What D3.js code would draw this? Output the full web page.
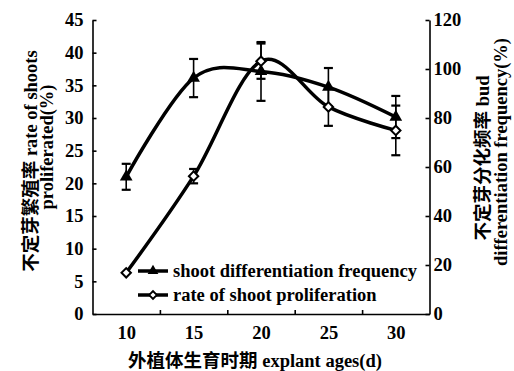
<!DOCTYPE html>
<html>
<head>
<meta charset="utf-8">
<script src="https://cdn.jsdelivr.net/npm/d3@7"></script>
<style>
  body { margin: 0; background: #fff; }
  text { font-family: "Liberation Serif", "Noto Sans CJK SC", serif; font-weight: bold; fill: #000; }
</style>
</head>
<body>
<svg id="chart" width="514" height="371"></svg>
<script>
// values
const ages = [10, 15, 20, 25, 30]
const proliferation = [6.3, 21.1, 38.7, 31.7, 28.1]        // left axis, diamonds
const proliferationErr = [0, 1.1, 2.7, 2.9, 3.8]
const differentiation = [56, 96.3, 99, 92.6, 80.4]         // right axis, triangles
const differentiationErr = [5.3, 7.8, 12, 7.8, 8.6]
const leftTicks = [0, 5, 10, 15, 20, 25, 30, 35, 40, 45]
const rightTicks = [0, 20, 40, 60, 80, 100, 120]
const minorX = [12.5, 17.5, 22.5, 27.5]

const fs = 18.5

const svg = d3.select("#chart")
svg.append("rect").attr("width", 514).attr("height", 371).attr("fill", "#fff")

const x = d3.scaleLinear().domain([7.5, 32.5]).range([92.5, 429.5])
const yL = d3.scaleLinear().domain([0, 45]).range([314, 20])
const yR = d3.scaleLinear().domain([0, 120]).range([314, 20])

const styleAxis = g => {
  g.selectAll("path, line").attr("stroke", "#000").attr("stroke-width", 1.6)
  g.selectAll("text").attr("font-size", fs)
  g.attr("font-family", null).attr("font-size", null)
}

svg.append("g")
  .attr("transform", "translate(92.5,0)")
  .call(d3.axisLeft(yL).tickValues(leftTicks).tickSize(-4).tickSizeOuter(0).tickPadding(9))
  .call(styleAxis)

svg.append("g")
  .attr("transform", "translate(429.5,0)")
  .call(d3.axisRight(yR).tickValues(rightTicks).tickSize(-4).tickSizeOuter(0).tickPadding(4))
  .call(styleAxis)

svg.append("g")
  .attr("transform", "translate(0,314)")
  .call(d3.axisBottom(x).tickValues(ages).tickSize(0).tickPadding(12))
  .call(styleAxis)

svg.append("g")
  .attr("transform", "translate(0,314)")
  .call(d3.axisBottom(x).tickValues(minorX).tickSize(-4).tickFormat(""))
  .call(g => g.select(".domain").remove())
  .call(styleAxis)

// curves
const curve = d3.curveCardinal.tension(0)
const lineL = d3.line().x((d, i) => x(ages[i])).y(d => yL(d)).curve(curve)
const lineR = d3.line().x((d, i) => x(ages[i])).y(d => yR(d)).curve(curve)

svg.append("path").attr("d", lineR(differentiation))
  .attr("fill", "none").attr("stroke", "#000").attr("stroke-width", 3.5)
svg.append("path").attr("d", lineL(proliferation))
  .attr("fill", "none").attr("stroke", "#000").attr("stroke-width", 3.5)

// error bars
function errorBars(values, errs, y) {
  const g = svg.append("g").attr("stroke", "#000")
  values.forEach((v, i) => {
    if (!errs[i]) return
    const cx = x(ages[i])
    const top = y(v + errs[i]), bot = y(v - errs[i])
    g.append("line").attr("x1", cx).attr("x2", cx).attr("y1", top).attr("y2", bot).attr("stroke-width", 1.6)
    ;[top, bot].forEach(yy => {
      g.append("line").attr("x1", cx - 4.5).attr("x2", cx + 4.5).attr("y1", yy).attr("y2", yy).attr("stroke-width", 2.2)
    })
  })
}
errorBars(differentiation, differentiationErr, yR)
errorBars(proliferation, proliferationErr, yL)

const triangle = d3.symbol().type(d3.symbolTriangle).size(70)
const diamond = d3.symbol().type(d3.symbolSquare).size(44)

svg.selectAll(".tri").data(differentiation).enter().append("path")
  .attr("class", "tri")
  .attr("d", triangle)
  .attr("transform", (d, i) => `translate(${x(ages[i])},${yR(d)})`)
  .attr("fill", "#000")

svg.selectAll(".dia").data(proliferation).enter().append("path")
  .attr("class", "dia")
  .attr("d", diamond)
  .attr("transform", (d, i) => `translate(${x(ages[i])},${yL(d)}) rotate(45)`)
  .attr("fill", "#fff").attr("stroke", "#000").attr("stroke-width", 2)

// legend
const legend = [
  { label: "shoot differentiation frequency", sym: triangle, fill: "#000", rot: 0 },
  { label: "rate of shoot proliferation", sym: diamond, fill: "#fff", rot: 45 }
]
legend.forEach((d, i) => {
  const ly = 271 + i * 24
  svg.append("line").attr("x1", 138).attr("x2", 168).attr("y1", ly).attr("y2", ly)
    .attr("stroke", "#000").attr("stroke-width", 3.5)
  svg.append("path").attr("d", d.sym.size(i ? 30 : 50)())
    .attr("transform", `translate(153,${ly}) rotate(${d.rot})`)
    .attr("fill", d.fill).attr("stroke", "#000").attr("stroke-width", i ? 1.8 : 0)
  svg.append("text").attr("x", 173).attr("y", ly + 6).attr("font-size", fs).text(d.label)
})

// axis titles
svg.append("text").attr("x", 255).attr("y", 367).attr("text-anchor", "middle")
  .attr("font-size", fs).text("外植体生育时期 explant ages(d)")

svg.append("text").attr("transform", "translate(37,161) rotate(-90)")
  .attr("text-anchor", "middle").attr("font-size", fs).text("不定芽繁殖率 rate of shoots")
svg.append("text").attr("transform", "translate(53,147) rotate(-90)")
  .attr("text-anchor", "middle").attr("font-size", fs).text("proliferated(%)")

svg.append("text").attr("transform", "translate(489,158) rotate(-90)")
  .attr("text-anchor", "middle").attr("font-size", fs).text("不定芽分化频率 bud")
svg.append("text").attr("transform", "translate(507,152) rotate(-90)")
  .attr("text-anchor", "middle").attr("font-size", fs).text("differentiation frequency(%)")
</script>
</body>
</html>
